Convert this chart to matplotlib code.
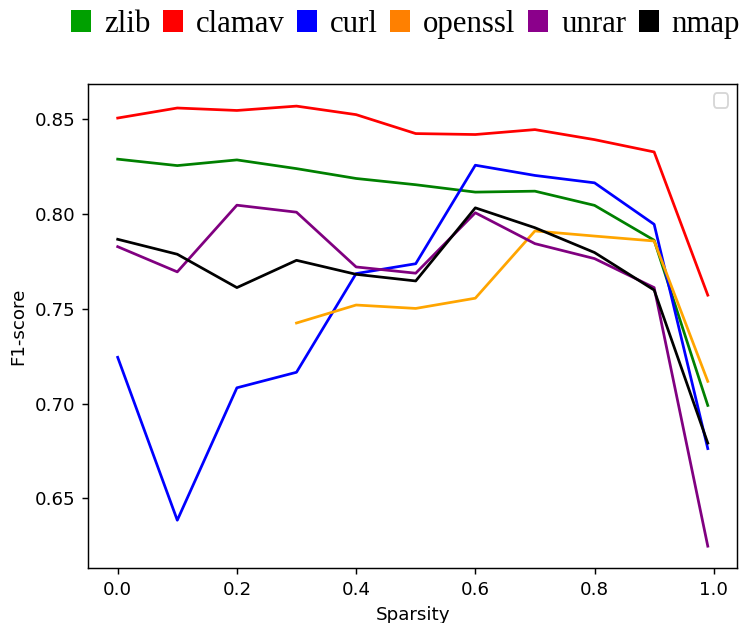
import matplotlib

matplotlib.use("Agg")
import matplotlib.pyplot as plt
from matplotlib.patches import Patch
import numpy as np

DPI = 131

sparsity = [0.0, 0.1, 0.2, 0.3, 0.4, 0.5, 0.6, 0.7, 0.8, 0.9, 0.99]

zlib = [0.829, 0.8256, 0.8286, 0.824, 0.8188, 0.8155, 0.8116, 0.8121, 0.8046, 0.7862, 0.699]
clamav = [0.8507, 0.856, 0.8547, 0.857, 0.8525, 0.8425, 0.842, 0.8446, 0.8393, 0.8328, 0.7572]
curl = [0.7244, 0.6384, 0.7083, 0.7165, 0.7686, 0.7738, 0.8258, 0.8204, 0.8165, 0.7946, 0.6762]
openssl_x = [0.3, 0.4, 0.5, 0.6, 0.7, 0.8, 0.9, 0.99]
openssl = [0.7425, 0.752, 0.7502, 0.7556, 0.7911, 0.7884, 0.7858, 0.7117]
unrar = [0.7828, 0.7695, 0.8047, 0.801, 0.7721, 0.7688, 0.8007, 0.7844, 0.7765, 0.7612, 0.6247]
nmap = [0.7867, 0.7788, 0.7612, 0.7756, 0.7682, 0.7647, 0.8033, 0.7928, 0.7797, 0.7599, 0.6791]

names = ["zlib", "clamav", "curl", "openssl", "unrar", "nmap"]
line_colors = ["green", "red", "blue", "orange", "purple", "black"]
key_colors = ["#00a000", "#ff0000", "#0000ff", "#ff8000", "#8b008b", "#000000"]

fig = plt.figure(figsize=(741 / DPI, 623 / DPI), dpi=DPI)
ax = fig.add_axes([0.119, 0.088, 0.876, 0.777])

series = [
    (sparsity, zlib),
    (sparsity, clamav),
    (sparsity, curl),
    (openssl_x, openssl),
    (sparsity, unrar),
    (sparsity, nmap),
]
for (x, y), c in zip(series, line_colors):
    ax.plot(x, y, color=c)

ax.set_xlabel("Sparsity")
ax.set_ylabel("F1-score")
ax.set_xticks(np.arange(0, 1.01, 0.2))
ax.set_yticks([0.65, 0.70, 0.75, 0.80, 0.85])

# empty legend box in the corner
ax.legend(handles=[], loc="upper right")

handles = [Patch(facecolor=c, edgecolor="none") for c in key_colors]
fig.legend(
    handles,
    names,
    loc="center",
    bbox_to_anchor=(0.547, 0.961),
    ncol=6,
    frameon=False,
    prop={"family": "Liberation Serif", "size": 17},
    handlelength=0.65,
    handleheight=0.72,
    handletextpad=0.42,
    columnspacing=0.4,
    borderpad=0.0,
)

fig.savefig("out.png", dpi=DPI)
